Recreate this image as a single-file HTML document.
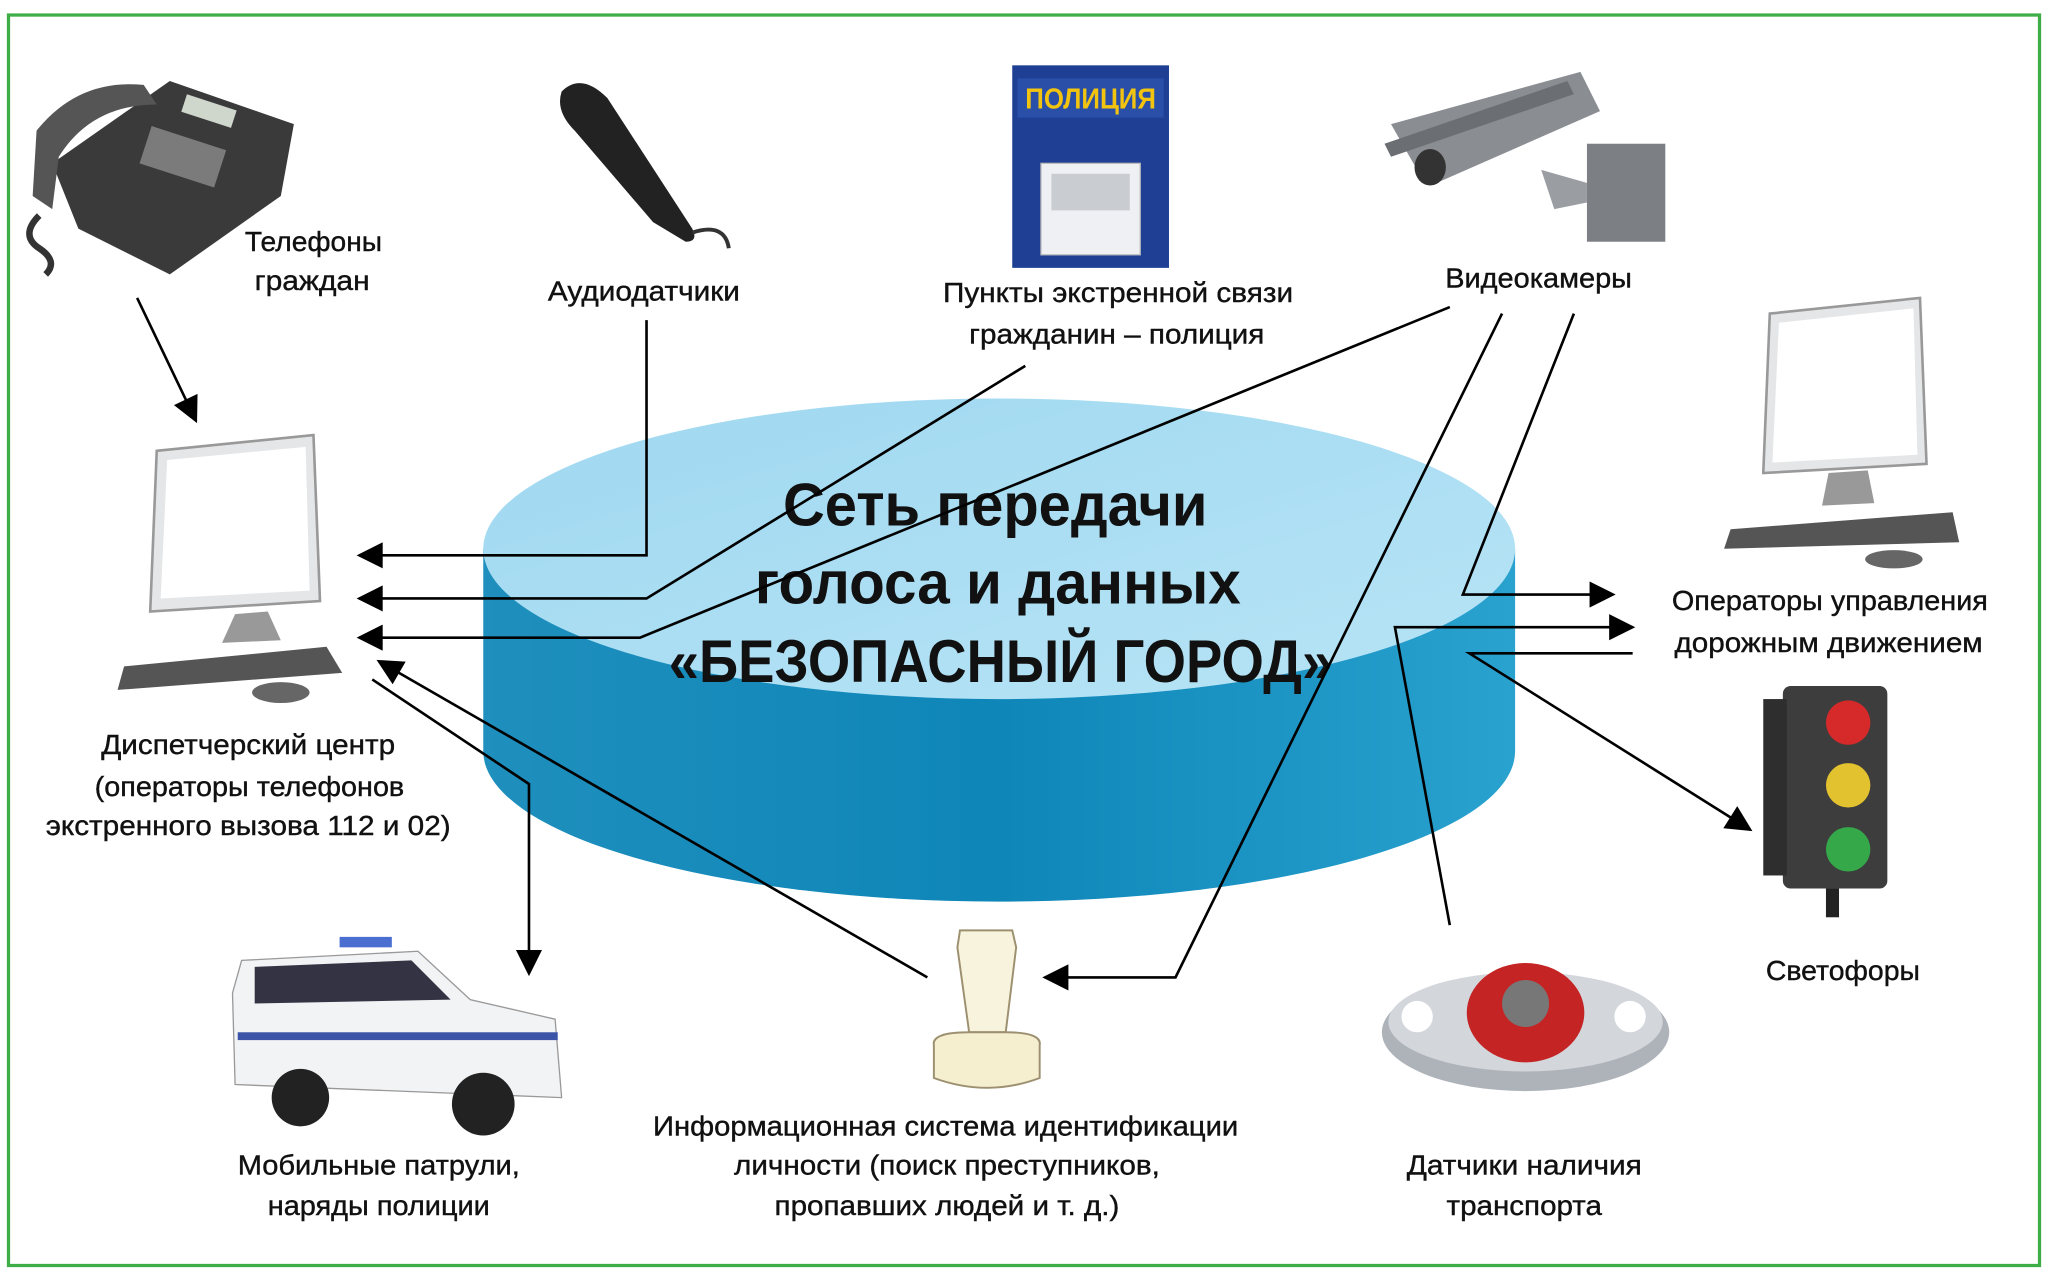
<!DOCTYPE html>
<html><head><meta charset="utf-8"><style>
html,body{margin:0;padding:0;background:#fff}
svg{display:block}
text{font-family:"Liberation Sans",sans-serif;fill:#111}
.l{font-size:21px;text-anchor:middle;stroke:#111;stroke-width:0.3}
.t{font-size:46px;font-weight:bold;text-anchor:middle}
</style></head><body>
<svg width="2048" height="1274" viewBox="0 0 1568 975" preserveAspectRatio="none" xmlns="http://www.w3.org/2000/svg">
<defs>
<marker id="b" viewBox="0 0 10 10" refX="9" refY="5" markerWidth="22" markerHeight="20" markerUnits="userSpaceOnUse" orient="auto"><path d="M0,0 L10,5 L0,10 z" fill="#000"/></marker>
<linearGradient id="side" x1="0" x2="1" y1="0" y2="0"><stop offset="0" stop-color="#1f8fbd"/><stop offset="0.5" stop-color="#0e86b8"/><stop offset="1" stop-color="#2aa2cf"/></linearGradient>
<linearGradient id="top" x1="0" x2="1" y1="0" y2="1"><stop offset="0" stop-color="#9fd8f0"/><stop offset="1" stop-color="#b8e4f6"/></linearGradient>
</defs>
<rect x="6.5" y="11.5" width="1555" height="957" fill="#fff" stroke="#3fae48" stroke-width="2.5"/>
<path d="M370,420 L370,575 A395,115 0 0 0 1160,575 L1160,420 Z" fill="url(#side)"/>
<ellipse cx="765" cy="420" rx="395" ry="115" fill="url(#top)"/>
<text class="t" x="762" y="402" textLength="325" lengthAdjust="spacingAndGlyphs">Сеть передачи</text>
<text class="t" x="764" y="462" textLength="372" lengthAdjust="spacingAndGlyphs">голоса и данных</text>
<text class="t" x="766" y="522" textLength="508" lengthAdjust="spacingAndGlyphs">«БЕЗОПАСНЫЙ ГОРОД»</text>
<g stroke="#000" stroke-width="2" fill="none">
<line x1="105" y1="228" x2="150" y2="322" marker-end="url(#b)"/>
<polyline points="495,245 495,425 275,425" marker-end="url(#b)"/>
<polyline points="785,280 495,458 275,458" marker-end="url(#b)"/>
<polyline points="1110,235 490,488 275,488" marker-end="url(#b)"/>
<polyline points="285,520 405,600 405,745" marker-end="url(#b)"/>
<line x1="710" y1="748" x2="290" y2="506" marker-end="url(#b)"/>
<polyline points="1150,240 900,748 800,748" marker-end="url(#b)"/>
<polyline points="1205,240 1120,455 1235,455" marker-end="url(#b)"/>
<polyline points="1110,708 1068,480 1250,480" marker-end="url(#b)"/>
<polyline points="1250,500 1125,500 1340,635" marker-end="url(#b)"/>
</g>
<!-- phone -->
<g>
<path d="M40,125 L130,62 L225,95 L215,150 L130,210 L60,175 Z" fill="#3a3a3a"/>
<path d="M28,100 Q60,60 110,65 L120,80 Q70,80 45,120 L40,160 L25,150 Z" fill="#555"/>
<rect x="140" y="78" width="40" height="14" fill="#cfd6cc" transform="rotate(18 160 85)"/>
<rect x="110" y="105" width="60" height="30" fill="#bbb" opacity="0.5" transform="rotate(18 140 120)"/>
<path d="M30,165 q-15,15 0,25 q15,10 5,20" stroke="#333" stroke-width="5" fill="none"/>
</g>
<path d="M430,70 Q445,55 465,75 L530,175 Q535,185 525,185 L500,170 L440,100 Q425,85 430,70 Z" fill="#222"/>
<path d="M530,178 Q555,170 558,190" stroke="#333" stroke-width="3" fill="none"/>
<rect x="775" y="50" width="120" height="155" fill="#1e3f94"/>
<rect x="779" y="60" width="112" height="30" fill="#2a4fa8"/>
<text x="835" y="83" textLength="100" lengthAdjust="spacingAndGlyphs" style="font-size:22px;font-weight:bold;text-anchor:middle;fill:#f2c40f">ПОЛИЦИЯ</text>
<rect x="797" y="125" width="76" height="70" fill="#eef0f3" stroke="#bbb"/>
<rect x="805" y="133" width="60" height="28" fill="#c9ccd0"/>
<path d="M1065,95 L1210,55 L1225,85 L1100,140 L1085,130 Z" fill="#8a8d92"/>
<path d="M1060,110 L1200,62 L1205,72 L1065,120 Z" fill="#6b6e73"/>
<ellipse cx="1095" cy="128" rx="12" ry="14" fill="#333"/>
<rect x="1215" y="110" width="60" height="75" fill="#7c7f84"/>
<path d="M1180,130 L1215,140 L1215,155 L1190,160 Z" fill="#9a9da2"/>
<g>
<polygon points="120,345 240,333 245,460 115,468" fill="#e4e6e8" stroke="#999" stroke-width="2"/>
<polygon points="128,352 234,342 237,452 123,458" fill="#fff"/>
<polygon points="180,470 205,468 215,490 170,492" fill="#999"/>
<polygon points="95,510 250,495 262,515 90,528" fill="#555"/>
<ellipse cx="215" cy="530" rx="22" ry="8" fill="#666"/>
</g>
<g>
<polygon points="1355,240 1470,228 1475,355 1350,362" fill="#e4e6e8" stroke="#999" stroke-width="2"/>
<polygon points="1362,247 1465,236 1468,348 1357,354" fill="#fff"/>
<polygon points="1400,362 1430,360 1435,385 1395,387" fill="#999"/>
<polygon points="1325,405 1495,392 1500,415 1320,420" fill="#555"/>
<ellipse cx="1450" cy="428" rx="22" ry="7" fill="#666"/>
</g>
<g>
<rect x="1365" y="525" width="80" height="155" rx="6" fill="#3d3d3d"/>
<rect x="1350" y="535" width="18" height="135" fill="#2e2e2e"/>
<circle cx="1415" cy="553" r="17" fill="#d62a2a"/>
<circle cx="1415" cy="601" r="17" fill="#e2c22f"/>
<circle cx="1415" cy="650" r="17" fill="#35a84a"/>
<rect x="1398" y="680" width="10" height="22" fill="#222"/>
</g>
<g>
<path d="M185,735 L320,728 L360,765 L425,780 L430,840 L180,830 L178,760 Z" fill="#f2f3f5" stroke="#999"/>
<path d="M195,740 L315,735 L345,765 L195,768 Z" fill="#334"/>
<rect x="182" y="790" width="245" height="6" fill="#3b54a8"/>
<rect x="260" y="717" width="40" height="8" fill="#4a6fd0"/>
<circle cx="230" cy="840" r="22" fill="#222"/>
<circle cx="370" cy="845" r="24" fill="#222"/>
</g>
<g>
<path d="M735,712 L775,712 L778,725 L770,790 L742,790 L733,725 Z" fill="#f8f3dc" stroke="#9c9070" stroke-width="1.5"/>
<path d="M715,800 Q713,790 742,790 L770,790 Q798,790 796,800 L796,825 Q756,840 715,825 Z" fill="#f5efcf" stroke="#9c9070" stroke-width="1.5"/>
</g>
<g>
<ellipse cx="1168" cy="790" rx="110" ry="45" fill="#aeb3ba"/>
<ellipse cx="1168" cy="782" rx="105" ry="38" fill="#d3d7dc"/>
<circle cx="1085" cy="778" r="12" fill="#fff"/>
<circle cx="1248" cy="778" r="12" fill="#fff"/>
<ellipse cx="1168" cy="775" rx="45" ry="38" fill="#c42424"/>
<circle cx="1168" cy="768" r="18" fill="#777"/>
</g>
<text class="l" x="240" y="192" textLength="105" lengthAdjust="spacingAndGlyphs">Телефоны</text>
<text class="l" x="239" y="222" textLength="88" lengthAdjust="spacingAndGlyphs">граждан</text>
<text class="l" x="493" y="230" textLength="147" lengthAdjust="spacingAndGlyphs">Аудиодатчики</text>
<text class="l" x="856" y="231" textLength="268" lengthAdjust="spacingAndGlyphs">Пункты экстренной связи</text>
<text class="l" x="855" y="263" textLength="226" lengthAdjust="spacingAndGlyphs">гражданин – полиция</text>
<text class="l" x="1178" y="220" textLength="143" lengthAdjust="spacingAndGlyphs">Видеокамеры</text>
<text class="l" x="1401" y="467" textLength="242" lengthAdjust="spacingAndGlyphs">Операторы управления</text>
<text class="l" x="1400" y="499" textLength="236" lengthAdjust="spacingAndGlyphs">дорожным движением</text>
<text class="l" x="190" y="577" textLength="225" lengthAdjust="spacingAndGlyphs">Диспетчерский центр</text>
<text class="l" x="191" y="609" textLength="237" lengthAdjust="spacingAndGlyphs">(операторы телефонов</text>
<text class="l" x="190" y="639" textLength="310" lengthAdjust="spacingAndGlyphs">экстренного вызова 112 и 02)</text>
<text class="l" x="1411" y="750" textLength="118" lengthAdjust="spacingAndGlyphs">Светофоры</text>
<text class="l" x="290" y="899" textLength="216" lengthAdjust="spacingAndGlyphs">Мобильные патрули,</text>
<text class="l" x="290" y="930" textLength="170" lengthAdjust="spacingAndGlyphs">наряды полиции</text>
<text class="l" x="724" y="869" textLength="448" lengthAdjust="spacingAndGlyphs">Информационная система идентификации</text>
<text class="l" x="725" y="899" textLength="326" lengthAdjust="spacingAndGlyphs">личности (поиск преступников,</text>
<text class="l" x="725" y="930" textLength="264" lengthAdjust="spacingAndGlyphs">пропавших людей и т. д.)</text>
<text class="l" x="1167" y="899" textLength="180" lengthAdjust="spacingAndGlyphs">Датчики наличия</text>
<text class="l" x="1167" y="930" textLength="119" lengthAdjust="spacingAndGlyphs">транспорта</text>
</svg>
</body></html>
